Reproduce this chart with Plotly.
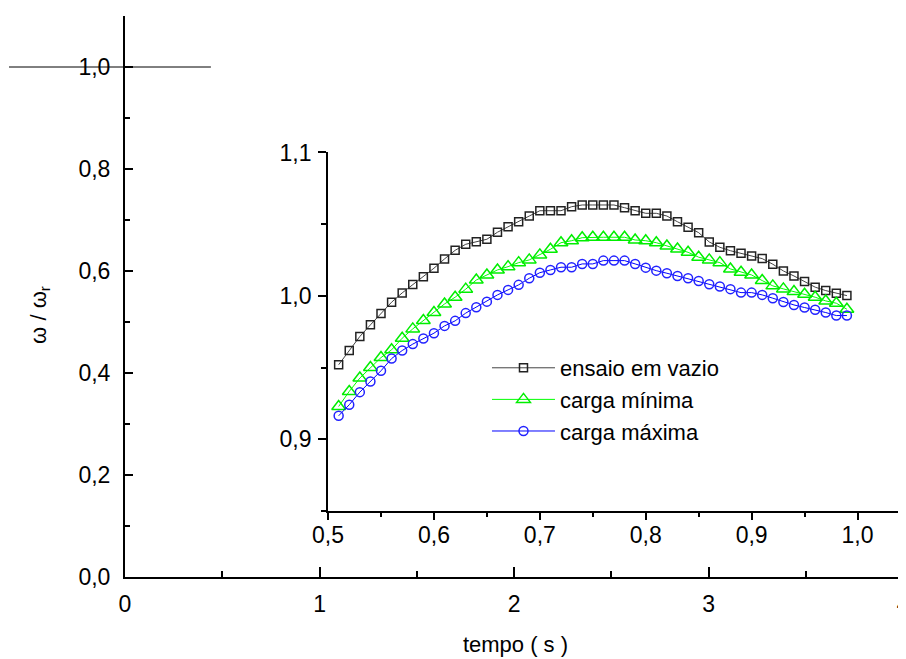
import plotly.graph_objects as go

# ---- data ----
tempo = [0.51, 0.52, 0.53, 0.54, 0.55, 0.56, 0.57, 0.58, 0.59, 0.60,
         0.61, 0.62, 0.63, 0.64, 0.65, 0.66, 0.67, 0.68, 0.69, 0.70,
         0.71, 0.72, 0.73, 0.74, 0.75, 0.76, 0.77, 0.78, 0.79, 0.80,
         0.81, 0.82, 0.83, 0.84, 0.85, 0.86, 0.87, 0.88, 0.89, 0.90,
         0.91, 0.92, 0.93, 0.94, 0.95, 0.96, 0.97, 0.98, 0.99]

ensaio_vazio = [0.952, 0.962, 0.9717, 0.9798, 0.9877, 0.9956, 1.0021, 1.0079, 1.0134, 1.0193,
                1.0258, 1.0318, 1.0360, 1.0378, 1.0395, 1.0444, 1.0483, 1.0517, 1.0557, 1.0594,
                1.0594, 1.0594, 1.0622, 1.0634, 1.0634, 1.0634, 1.0634, 1.0615, 1.0594, 1.0576,
                1.0576, 1.0557, 1.0517, 1.0478, 1.0441, 1.0376, 1.0339, 1.0315, 1.0297, 1.0279,
                1.0260, 1.0221, 1.0174, 1.0139, 1.0100, 1.0061, 1.0037, 1.0019, 1.0002]

carga_minima = [0.9229, 0.9334, 0.9427, 0.9501, 0.9570, 0.9624, 0.9705, 0.9770, 0.9828, 0.9884,
                0.9944, 0.9991, 1.0047, 1.0111, 1.0146, 1.0181, 1.0204, 1.0232, 1.0251, 1.0286,
                1.0325, 1.0371, 1.0385, 1.0406, 1.0409, 1.0409, 1.0409, 1.0409, 1.0390, 1.0385,
                1.0371, 1.0348, 1.0327, 1.0304, 1.0270, 1.0251, 1.0232, 1.0188, 1.0165, 1.0146,
                1.0107, 1.0070, 1.0049, 1.0030, 1.0012, 0.9991, 0.9965, 0.9949, 0.9907]

carga_maxima = [0.9164, 0.9241, 0.9329, 0.9403, 0.9478, 0.9563, 0.9619, 0.9664, 0.9703, 0.9740,
                0.9791, 0.9826, 0.9880, 0.9921, 0.9960, 1.0007, 1.0042, 1.0077, 1.0123, 1.0162,
                1.0181, 1.0200, 1.0200, 1.0223, 1.0223, 1.0246, 1.0246, 1.0246, 1.0223, 1.0197,
                1.0176, 1.0158, 1.0139, 1.0123, 1.0104, 1.0081, 1.0065, 1.0047, 1.0023, 1.0023,
                1.0007, 0.9984, 0.9958, 0.9937, 0.9919, 0.9903, 0.9884, 0.9863, 0.9863]

series_names = ["ensaio em vazio", "carga mínima", "carga máxima"]
ref_level = 1.0

FONT = "Liberation Sans, Arial, sans-serif"
TICK = 23

fig = go.Figure()

# empty trace so the main axes exist
fig.add_trace(go.Scatter(x=[], y=[], xaxis="x", yaxis="y", showlegend=False))

fig.add_trace(go.Scatter(
    x=tempo, y=ensaio_vazio, name=series_names[0], xaxis="x2", yaxis="y2",
    mode="lines+markers",
    line=dict(color="#444444", width=1),
    marker=dict(symbol="square-open", size=8, color="#222222", line=dict(width=1.5)),
))
fig.add_trace(go.Scatter(
    x=tempo, y=carga_minima, name=series_names[1], xaxis="x2", yaxis="y2",
    mode="lines+markers",
    line=dict(color="#00ff00", width=1),
    marker=dict(symbol="triangle-up-open", size=12, color="#00ee00", line=dict(width=1.5)),
))
fig.add_trace(go.Scatter(
    x=tempo, y=carga_maxima, name=series_names[2], xaxis="x2", yaxis="y2",
    mode="lines+markers",
    line=dict(color="#0000ff", width=1),
    marker=dict(symbol="circle-open", size=9, color="#2222ff", line=dict(width=1.5)),
))

# stray horizontal line at omega/omega_r = 1.0 of the original figure
fig.add_shape(type="line", xref="paper", yref="y", x0=-0.1485, x1=0.110,
              y0=ref_level, y1=ref_level, line=dict(color="black", width=1))

# y-axis title
fig.add_annotation(text="ω / ω<sub>r</sub>", xref="paper", yref="paper",
                   x=-0.109, y=0.467, xanchor="center", yanchor="middle",
                   textangle=-90, showarrow=False, font=dict(size=22, family=FONT))

# page body has an 8px margin: figure is 8px smaller and starts at (8, 8)
fig.update_layout(
    width=898, height=651,
    margin=dict(l=117, r=0, t=8, b=82),
    paper_bgcolor="white", plot_bgcolor="rgba(0,0,0,0)",
    separators=",.",
    font=dict(family=FONT, color="black", size=22),
    showlegend=True,
    legend=dict(x=0.4635, y=0.41, xanchor="left", yanchor="top",
                bgcolor="rgba(0,0,0,0)", font=dict(size=22, family=FONT),
                itemwidth=63, tracegroupgap=0),
    xaxis=dict(
        range=[0, 4.015], domain=[0, 1], showgrid=False, zeroline=False, automargin=False,
        showline=True, linecolor="black", linewidth=2,
        ticks="inside", ticklen=10, tickwidth=2, tickcolor="black",
        dtick=1, tick0=0, tickfont=dict(size=TICK), ticklabelstandoff=5,
        ticklabeloverflow="allow",
        minor=dict(ticks="inside", ticklen=6, tickwidth=2, dtick=0.5, tick0=0, tickcolor="black"),
        title=dict(text="tempo ( s )", font=dict(size=22), standoff=21),
    ),
    yaxis=dict(
        range=[0, 1.1], domain=[0, 1], showgrid=False, zeroline=False, automargin=False,
        showline=True, linecolor="black", linewidth=2,
        ticks="inside", ticklen=8, tickwidth=2, tickcolor="black",
        dtick=0.2, tick0=0, tickformat=".1f", tickfont=dict(size=TICK), ticklabelstandoff=8,
        ticklabeloverflow="allow",
        minor=dict(ticks="inside", ticklen=5, tickwidth=2, dtick=0.1, tick0=0, tickcolor="black"),
    ),
    xaxis2=dict(
        range=[0.5, 1.0458], domain=[0.26, 1.0], anchor="y2",
        showgrid=False, zeroline=False, automargin=False,
        showline=True, linecolor="black", linewidth=2,
        ticks="outside", ticklen=7, tickwidth=2, tickcolor="black",
        dtick=0.1, tick0=0.5, tickformat=".1f", tickfont=dict(size=TICK), ticklabelstandoff=-5,
        ticklabeloverflow="allow",
        minor=dict(ticks="outside", ticklen=4, tickwidth=2, dtick=0.05, tick0=0.5, tickcolor="black"),
    ),
    yaxis2=dict(
        range=[0.85, 1.1], domain=[0.1176, 0.7567], anchor="x2",
        showgrid=False, zeroline=False, automargin=False,
        showline=True, linecolor="black", linewidth=2,
        ticks="outside", ticklen=8, tickwidth=2, tickcolor="black",
        dtick=0.1, tick0=0.9, tickformat=".1f", tickfont=dict(size=TICK), ticklabelstandoff=2,
        ticklabeloverflow="allow",
        minor=dict(ticks="outside", ticklen=5, tickwidth=2, dtick=0.05, tick0=0.85, tickcolor="black"),
    ),
)

fig.write_html("out.html")
